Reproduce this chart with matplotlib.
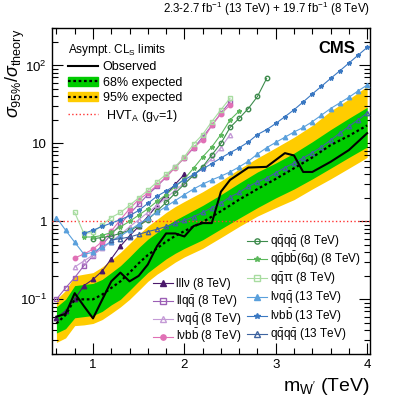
import numpy as np
import matplotlib
matplotlib.use('Agg')
import matplotlib.pyplot as plt
from matplotlib.lines import Line2D
from matplotlib.patches import Patch
from matplotlib.ticker import FixedLocator, MultipleLocator, NullFormatter

plt.rcParams['font.family'] = ['Liberation Sans', 'DejaVu Sans']
plt.rcParams['mathtext.fontset'] = 'custom'
plt.rcParams['mathtext.rm'] = 'Liberation Sans'
plt.rcParams['mathtext.it'] = 'Liberation Sans:italic'
plt.rcParams['mathtext.bf'] = 'Liberation Sans:bold'

# expected / observed combination limits
mass_band = [0.6, 0.7, 0.8, 0.9, 1.0, 1.1, 1.2, 1.3, 1.4, 1.5, 1.6, 1.7, 1.8, 1.9, 2.0,
             2.2, 2.4, 2.6, 2.8, 3.0, 3.2, 3.4, 3.6, 3.8, 4.0]
exp_med = [0.049, 0.063, 0.10, 0.10, 0.10, 0.115, 0.14, 0.17, 0.22, 0.29, 0.37, 0.45, 0.55, 0.65, 0.75,
           0.98, 1.35, 1.9, 2.6, 3.5, 4.8, 6.6, 9.5, 12.5, 17]
exp_1s_up = [0.08, 0.10, 0.15, 0.155, 0.16, 0.18, 0.22, 0.27, 0.35, 0.46, 0.59, 0.72, 0.88, 1.04, 1.2,
             1.6, 2.2, 3.1, 4.3, 5.6, 7.5, 10.5, 15, 21, 29]
exp_1s_dn = [0.037, 0.042, 0.058, 0.06, 0.062, 0.07, 0.085, 0.10, 0.13, 0.17, 0.22, 0.27, 0.33, 0.39, 0.45,
             0.58, 0.8, 1.1, 1.5, 2.0, 2.6, 3.5, 4.8, 6.6, 9.0]
exp_2s_up = [0.10, 0.13, 0.2, 0.21, 0.22, 0.26, 0.32, 0.4, 0.52, 0.68, 0.87, 1.06, 1.3, 1.55, 1.8,
             2.4, 3.3, 4.7, 6.5, 8.8, 12, 17, 26, 37, 54]
exp_2s_dn = [0.028, 0.032, 0.046, 0.047, 0.049, 0.055, 0.066, 0.08, 0.1, 0.13, 0.17, 0.21, 0.25, 0.3, 0.35,
             0.45, 0.62, 0.86, 1.17, 1.5, 1.9, 2.6, 3.5, 4.8, 6.6]

mass_obs = [0.6, 0.7, 0.8, 0.9, 1.0, 1.2, 1.3, 1.4, 1.5, 1.6, 1.7, 1.8, 1.9, 2.0, 2.1, 2.2, 2.3,
            2.4, 2.5, 2.7, 2.9, 3.1, 3.2, 3.3, 3.4, 3.6, 3.8, 4.0]
obs = [0.060, 0.065, 0.12, 0.082, 0.057, 0.17, 0.22, 0.17, 0.2, 0.28, 0.48, 0.70, 0.70, 0.64, 0.87, 0.95, 0.95,
       2.4, 3.4, 4.9, 5.0, 7.5, 7.0, 4.3, 4.3, 5.8, 8.2, 13.5]

# individual channels
m_lllv = [0.6, 0.7, 0.8, 0.9, 1.0, 1.1, 1.2, 1.3, 1.4, 1.5, 1.6, 1.7, 1.8, 1.9, 2.0]
lim_lllv = [0.058, 0.071, 0.1, 0.15, 0.18, 0.23, 0.33, 0.48, 0.65, 0.86, 1.15, 1.6, 2.2, 3.0, 4.0]

m_8tev = [0.6, 0.7, 0.8, 0.9, 1.0, 1.1, 1.2, 1.3, 1.4, 1.5, 1.6, 1.7, 1.8, 1.9, 2.0, 2.1, 2.2, 2.3, 2.4, 2.5]
lim_llqq = [0.1, 0.14, 0.19, 0.27, 0.36, 0.5, 0.68, 0.92, 1.25, 1.65, 2.2, 2.8, 3.7, 5.0, 6.5, 8.7, 12, 17, 24.5, 34]

m_lvqq8 = [0.8, 0.9, 1.0, 1.1, 1.2, 1.3, 1.4, 1.5, 1.6, 1.7, 1.8, 1.9, 2.0, 2.1, 2.2, 2.3, 2.4, 2.5]
lim_lvqq8 = [0.26, 0.31, 0.37, 0.45, 0.55, 0.68, 0.85, 1.05, 1.3, 1.6, 2.0, 2.5, 3.1, 3.9, 4.9, 6.4, 8.8, 13]
lim_lvbb8 = [0.34, 0.38, 0.44, 0.55, 0.75, 1.05, 1.45, 1.9, 2.3, 2.9, 3.7, 4.9, 6.5, 8.8, 11, 17, 24, 31]
lim_qqtautau = [1.3, 0.7, 0.72, 0.9, 1.12, 1.3, 1.6, 2.0, 2.5, 3.2, 4.0, 5.0, 6.7, 9.8, 13, 19, 27, 38]

m_qqqq8 = [1.0, 1.1, 1.2, 1.3, 1.4, 1.5, 1.6, 1.7, 1.8, 1.9, 2.0, 2.1, 2.2, 2.3, 2.4, 2.5, 2.6, 2.7, 2.8, 2.9]
lim_qqqq8 = [0.6, 0.62, 0.65, 0.7, 0.77, 0.87, 1.05, 1.35, 1.75, 2.3, 3.0, 3.9, 5.0, 7.1, 10, 16, 21, 28, 40, 68]

m_qqbb = [0.9, 1.0, 1.1, 1.2, 1.3, 1.4, 1.5, 1.6, 1.7, 1.8, 1.9, 2.0, 2.1, 2.2, 2.3, 2.4, 2.5, 2.6]
lim_qqbb = [0.63, 0.63, 0.66, 0.72, 0.85, 1.0, 1.2, 1.45, 1.8, 2.2, 2.8, 3.5, 4.8, 6.7, 9.0, 13, 20, 26]

m_13tev = [0.6, 0.7, 0.8, 0.9, 1.0, 1.1, 1.2, 1.3, 1.4, 1.5, 1.6, 1.7, 1.8, 1.9, 2.0, 2.1, 2.2, 2.3,
           2.4, 2.5, 2.6, 2.7, 2.8, 2.9, 3.0, 3.1, 3.2, 3.3, 3.4, 3.5, 3.6, 3.7, 3.8, 3.9, 4.0]
lim_lvqq13 = [1.12, 0.77, 0.54, 0.38, 0.40, 0.47, 0.55, 0.65, 0.77, 0.92, 1.1, 1.3, 1.55, 1.85, 2.2, 2.6, 3.0, 3.4,
              3.8, 4.3, 5.0, 5.9, 7.3, 8.8, 10.3, 12, 14, 16, 19, 23, 28, 33, 39, 47, 56]

m_lvbb13 = [0.9, 1.0, 1.1, 1.2, 1.3, 1.4, 1.5, 1.6, 1.7, 1.8, 1.9, 2.0, 2.1, 2.2, 2.3, 2.4, 2.5, 2.6,
            2.7, 2.8, 2.9, 3.0, 3.1, 3.2, 3.3, 3.4, 3.5, 3.6, 3.7, 3.8, 3.9, 4.0]
lim_lvbb13 = [0.70, 0.77, 0.86, 0.95, 1.05, 1.18, 1.38, 1.7, 2.1, 2.45, 2.9, 3.4, 4.0, 4.7, 5.5, 6.5, 7.6, 8.8,
              10.4, 13, 15, 18, 22, 27, 34, 43, 54, 68, 85, 107, 135, 170]

m_qqqq13 = [1.2, 1.3, 1.4, 1.5, 1.6, 1.7, 1.8, 1.9, 2.0, 2.1, 2.2, 2.3, 2.4, 2.5, 2.6, 2.7, 2.8,
            2.9, 3.0, 3.1, 3.2, 3.3, 3.4, 3.5, 3.6, 3.7, 3.8, 3.9, 4.0]
lim_qqqq13 = [0.58, 0.60, 0.63, 0.68, 0.74, 0.79, 0.86, 0.94, 1.03, 1.15, 1.3, 1.5, 1.72, 2.05, 2.35, 2.8, 3.2,
              3.6, 4.2, 4.9, 5.6, 6.5, 7.6, 9.0, 11, 13.5, 16.5, 20, 24.5]

fig = plt.figure(figsize=(3.99, 4.03), dpi=100)
ax = fig.add_axes([0.130, 0.122, 0.797, 0.808])

yellow = '#ffcc00'
green = '#00cc00'
ax.fill_between(mass_band, exp_2s_dn, exp_2s_up, color=yellow, lw=0, zorder=1)
ax.fill_between(mass_band, exp_1s_dn, exp_1s_up, color=green, lw=0, zorder=2)
ax.plot(mass_band, exp_med, color='black', ls=(0, (1.2, 1.2)), lw=1.6, zorder=6)
ax.plot(mass_obs, obs, color='black', lw=1.5, zorder=7)
ax.axhline(1.0, color='#ff3333', ls=':', lw=1.0, zorder=3)

ms = 3.2
lw = 0.8
# channel: x, y, color, marker, filled, legend label
channels = [
    (m_lllv, lim_lllv, '#4b1a6b', '^', True, 'lllν (8 TeV)'),
    (m_8tev, lim_llqq, '#9b5fb5', 's', False, 'llq$\\bar{\\mathrm{q}}$ (8 TeV)'),
    (m_lvqq8, lim_lvqq8, '#c49ad6', '^', False, 'lνq$\\bar{\\mathrm{q}}$ (8 TeV)'),
    (m_lvqq8, lim_lvbb8, '#e070b5', 'o', True, 'lνb$\\bar{\\mathrm{b}}$ (8 TeV)'),
    (m_qqqq8, lim_qqqq8, '#3d8b4c', 'o', False, 'q$\\bar{\\mathrm{q}}$q$\\bar{\\mathrm{q}}$ (8 TeV)'),
    (m_qqbb, lim_qqbb, '#5cb85c', '*', True, 'q$\\bar{\\mathrm{q}}$b$\\bar{\\mathrm{b}}$(6q) (8 TeV)'),
    (m_lvqq8, lim_qqtautau, '#a8dca0', 's', False, 'q$\\bar{\\mathrm{q}}$ττ (8 TeV)'),
    (m_13tev, lim_lvqq13, '#5aa0dc', '^', True, 'lνq$\\bar{\\mathrm{q}}$ (13 TeV)'),
    (m_lvbb13, lim_lvbb13, '#3a78c2', '*', True, 'lνb$\\bar{\\mathrm{b}}$ (13 TeV)'),
    (m_qqqq13, lim_qqqq13, '#3f64a0', '^', False, 'q$\\bar{\\mathrm{q}}$q$\\bar{\\mathrm{q}}$ (13 TeV)'),
]
for x, y, c, mk, filled, lab in channels:
    ax.plot(x, y, color=c, marker=mk, mfc=c if filled else 'none', lw=lw, ms=ms, zorder=5)

# channel legends placed by hand (axes fraction)
leg_x = [0.318] * 4 + [0.613] * 6
leg_y = [0.218, 0.163, 0.107, 0.053, 0.347, 0.291, 0.233, 0.175, 0.117, 0.061]
for (x, y, c, mk, filled, lab), lx, ly in zip(channels, leg_x, leg_y):
    ax.add_line(Line2D([lx, lx + 0.063], [ly, ly], transform=ax.transAxes, color=c, lw=lw, zorder=8))
    ax.add_line(Line2D([lx + 0.0315], [ly], transform=ax.transAxes, color=c, marker=mk,
                       mfc=c if filled else 'none', ms=ms + 0.6, zorder=8))
    ax.text(lx + 0.073, ly - 0.012, lab, transform=ax.transAxes, fontsize=8.5, va='baseline', ha='left', zorder=8)

ax.set_yscale('log')
ax.set_xlim(0.55, 4.03)
ax.set_ylim(0.02, 300)

ax.xaxis.set_major_locator(FixedLocator([1, 2, 3, 4]))
ax.xaxis.set_minor_locator(MultipleLocator(0.2))
ax.set_xticklabels(['1', '2', '3', '4'])
ax.yaxis.set_major_locator(FixedLocator([0.1, 1, 10, 100]))
ax.set_yticklabels(['$10^{-1}$', '1', '10', '$10^{2}$'])
ax.yaxis.set_minor_formatter(NullFormatter())
ax.tick_params(which='both', direction='in', top=True, right=True, labelsize=9.5)
ax.tick_params(which='major', length=8, width=0.8)
ax.tick_params(which='minor', length=4, width=0.8)
for s in ax.spines.values():
    s.set_linewidth(1.0)

ax.set_xlabel("m$_{\\mathrm{W'}}$ (TeV)", fontsize=14, loc='right')
fig.text(0.038, 0.930, '$\\sigma_{95\\%}/\\sigma_{\\mathrm{theory}}$', rotation=90,
         ha='center', va='top', fontsize=13)

fig.text(0.927, 0.955, '2.3-2.7 fb$^{-1}$ (13 TeV) + 19.7 fb$^{-1}$ (8 TeV)', ha='right', va='bottom', fontsize=8.3)
ax.text(0.955, 0.96, 'CMS', transform=ax.transAxes, ha='right', va='top', fontsize=12, fontweight='bold')

# top-left legend
h_obs = Line2D([], [], color='black', lw=1.5)
h_68 = (Patch(color=green), Line2D([], [], color='black', ls=(0, (1.2, 1.2)), lw=1.6))
h_95 = (Patch(color=yellow), Line2D([], [], color='black', ls=(0, (1.2, 1.2)), lw=1.6))
h_hvt = Line2D([], [], color='#ff3333', ls=':', lw=1.0)
ax.legend([h_obs, h_68, h_95, h_hvt],
          ['Observed', '68% expected', '95% expected', ' HVT$_{\\mathrm{A}}$ (g$_{\\mathrm{V}}$=1)'],
          title='Asympt. CL$_{\\mathrm{S}}$ limits', title_fontsize=8.5, fontsize=9,
          loc='upper left', bbox_to_anchor=(0.03, 0.978), frameon=False,
          handlelength=2.4, handletextpad=0.4, labelspacing=0.28, borderpad=0, alignment='left')

fig.savefig('out.png', dpi=100)
